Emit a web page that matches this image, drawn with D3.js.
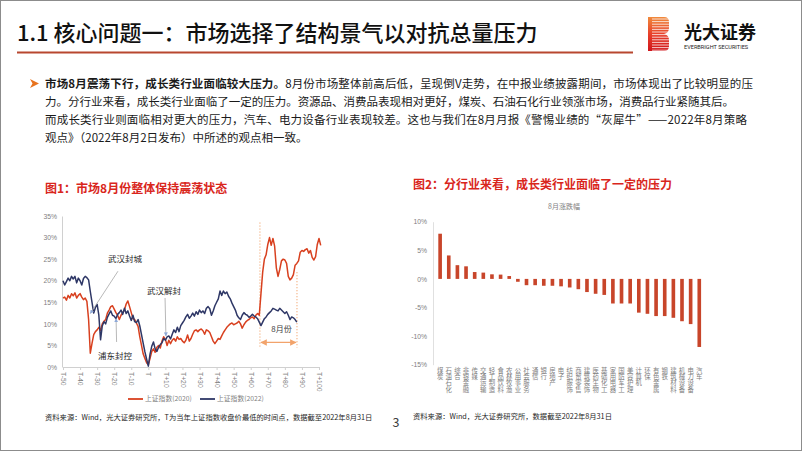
<!DOCTYPE html>
<html><head><meta charset="utf-8">
<script src="https://cdn.jsdelivr.net/npm/d3@7"></script>
<style>
html,body{margin:0;padding:0;background:#fff;}
svg{display:block;font-family:"Noto Sans CJK SC","Noto Sans",sans-serif;}
.vt{writing-mode:vertical-rl;text-orientation:upright;}
</style></head><body>
<svg id="c" width="802" height="451"></svg>
<script>
// ---------------- DATA ----------------
const days2022 = d3.range(-50, 88);
const index2022 = [20,19,19.8,20.6,20,21,20.4,21,19.5,20.6,20,19,20.5,21,20.7,20.2,17.5,15,12.5,13.8,14.5,12,6.3,9.5,10.5,10,11.5,12.3,13,12,11.8,11.2,12.2,12.6,13.2,12.2,13.6,12.4,13,11.8,10.8,12,10.5,10.3,11,9.5,7.5,5.5,3.5,1.8,0.2,3,4.8,5.8,4.2,3.6,4.6,5.2,5.6,6.6,6.2,7,7.2,6.5,7.6,8.6,8,9.2,8.2,9.6,10.2,10.8,11.6,12.2,11.3,11.8,12.5,11.8,12.8,12.2,13.2,12.6,13,12.4,13.6,14,13.5,12,13,14.2,15,15.8,17.6,16.6,17.6,17,17.4,16.4,15.8,14.8,14,13.2,12,11.4,11,12,12.6,12.2,12,11.5,11.8,12.2,11.8,11.6,11.2,10.4,9.6,10.4,11.2,11.6,12.2,12.6,13,13.6,13.4,13.2,13,13.6,13.2,12.8,12.4,12.8,12,11,11.6,11.4,11,10.4];
const days2020 = d3.range(-50, 102);
const index2020 = [16,16.2,15.5,16.6,16,17,16.5,17.2,16,16.6,17,16.2,15.6,16,15.2,11,3.2,5.5,7.5,8.2,8.6,9.2,8.5,10,10.6,11,12.5,13.2,14,14.2,13.4,12.6,12,11,12,12.6,13.2,14.6,15.3,14,12.6,11.2,11,10.2,9.4,7,5,3,2,1,0.5,2,3.6,4.2,3.4,4.6,5,4.4,6,7,6.4,5,6.2,5.4,6.2,6.6,6,7,6.4,6.6,6,5.6,6.2,7.4,6,6.6,7.6,8.4,8.6,8.2,8.6,8.8,8.4,7.6,8.6,8.4,8,7,6,5.4,6,6.6,6.4,7.2,8,8.6,9.2,9.6,10,10.2,9.8,10,10.2,10.6,10,9,9.8,10.4,10.8,11,11.4,11.6,11.2,12,12.4,12,17,22,25,26,28.4,30,28.2,29.8,28,23,21,22.6,24.6,25,24.8,24,21,20.2,20.6,21.4,23.6,24,24.6,26.6,27,26.8,27.2,27.4,26.4,27,25.4,24.8,25.6,28.4,29.8,28.2];
const leftYTicks = [0,5,10,15,20,25,30,35];
const leftXTicks = [-50,-40,-30,-20,-10,0,10,20,30,40,50,60,70,80,90,100];
const seriesNames = ["上证指数(2020)","上证指数(2022)"];

const industries = ["煤炭","石油石化","综合","非银金融","传媒","交通运输","轻工制造","食品饮料","农林牧渔","公用事业","社会服务","通信","银行","房地产","电子","纺织服饰","商贸零售","建筑装饰","医药生物","基础化工","家用电器","国防军工","美容护理","计算机","环保","有色金属","钢铁","建筑材料","机械设备","电力设备","汽车"];
const augChange = [7.9,4.1,2.4,2.2,1.2,1.1,0.8,0.75,0.5,-0.5,-1.1,-1.1,-1.2,-1.2,-1.3,-1.5,-1.8,-2.3,-2.6,-2.8,-4.3,-4.3,-4.3,-5.9,-6.1,-6.5,-6.5,-6.8,-7.4,-7.9,-11.9];
const rightYTicks = [10,5,0,-5,-10,-15];

const bodyLines = [
  ["市场8月震荡下行，成长类行业面临较大压力。","8月份市场整体前高后低，呈现倒V走势，在中报业绩披露期间，市场体现出了比较明显的压"],
  ["","力。分行业来看，成长类行业面临了一定的压力。资源品、消费品表现相对更好，煤炭、石油石化行业领涨市场，消费品行业紧随其后。"],
  ["","而成长类行业则面临相对更大的压力，汽车、电力设备行业表现较差。这也与我们在8月月报《警惕业绩的“灰犀牛”——2022年8月策略"],
  ["","观点》（2022年8月2日发布）中所述的观点相一致。"]
];

// ---------------- DRAW ----------------
const svg = d3.select("#c");
const RED = "#D8401F", NAVY = "#2E3766", BAR = "#C8452A", GREY = "#7F7F7F";

svg.append("rect").attr("x",0.5).attr("y",0.5).attr("width",801).attr("height",450)
  .attr("fill","#fff").attr("stroke","#8c8c8c");

// header
svg.append("text").attr("x",17).attr("y",41).attr("font-size",22).attr("font-weight",500)
  .attr("fill","#111").text("1.1 核心问题一：市场选择了结构景气以对抗总量压力");
svg.append("line").attr("x1",17).attr("x2",633).attr("y1",52.5).attr("y2",52.5)
  .attr("stroke","#B8472F").attr("stroke-width",2);

// logo
const defs = svg.append("defs");
const lg = defs.append("linearGradient").attr("id","lg").attr("x1",0).attr("y1",0).attr("x2",0).attr("y2",1);
lg.append("stop").attr("offset","0%").attr("stop-color","#F08A3C");
lg.append("stop").attr("offset","50%").attr("stop-color","#E8402A");
lg.append("stop").attr("offset","100%").attr("stop-color","#D0161C");
svg.append("path").attr("d","M648,17 H664 Q669,17 669,22 V28 Q669,33 664,34 Q669,35 669,40 V46 Q669,51 664,51 H648 Z")
  .attr("fill","url(#lg)");
d3.range(19,51,2.6).forEach(y=>{
  svg.append("line").attr("x1",652).attr("x2",670).attr("y1",y).attr("y2",y)
    .attr("stroke","#fff").attr("stroke-width",0.9).attr("opacity",0.85);
});
svg.append("text").attr("x",684).attr("y",39).attr("font-size",18).attr("font-weight",700)
  .attr("fill","#111").text("光大证券");
svg.append("text").attr("x",684).attr("y",48.5).attr("font-size",5.6).attr("font-family","Roboto, Arial, sans-serif")
  .attr("fill","#222").text("EVERBRIGHT SECURITIES");

// bullet
svg.append("path").attr("d","M30,79 L39,83.5 L30,88 L32.5,83.5 Z").attr("fill","#E8731E");

const lineLens = [708, 689, 702, null];
bodyLines.forEach((ln,i)=>{
  const t = svg.append("text").attr("x",45).attr("y",87.5+i*18).attr("font-size",11.5).attr("fill","#1a1a1a");
  if (lineLens[i]) t.attr("textLength",lineLens[i]).attr("lengthAdjust","spacing");
  if (ln[0]) t.append("tspan").attr("font-weight",700).text(ln[0]);
  t.append("tspan").text(ln[1]);
});

// chart titles
svg.append("text").attr("x",45).attr("y",193).attr("font-size",12).attr("font-weight",700)
  .attr("fill","#D9261C").text("图1：市场8月份整体保持震荡状态");
svg.append("text").attr("x",413).attr("y",189).attr("font-size",12).attr("font-weight",700)
  .attr("fill","#D9261C").text("图2：分行业来看，成长类行业面临了一定的压力");

// ---------- LEFT CHART ----------
const xL = d3.scaleLinear().domain([-50,100]).range([63,319]);
const yL = d3.scaleLinear().domain([0,35]).range([367,216]);

const gL = svg.append("g");
const yAxL = gL.append("g").attr("transform","translate(62,0)")
  .call(d3.axisLeft(yL).tickValues(leftYTicks).tickSize(0).tickPadding(5).tickFormat(d=>d+"%"));
yAxL.select(".domain").attr("stroke","#D0D0D0");
yAxL.selectAll("text").attr("font-size",6.8).attr("fill",GREY).attr("font-family","Arial, Liberation Sans, sans-serif");

const xAxL = gL.append("g").attr("transform","translate(0,367)")
  .call(d3.axisBottom(xL).tickValues(leftXTicks).tickSize(3).tickFormat(d=> d===0 ? "T" : (d>0 ? "T+"+d : "T"+d)));
xAxL.select(".domain").attr("stroke","#D0D0D0");
xAxL.selectAll(".tick line").attr("stroke","#D0D0D0");
xAxL.selectAll("text").attr("font-size",6.8).attr("fill",GREY).attr("font-family","Arial, Liberation Sans, sans-serif")
  .attr("text-anchor","start").attr("transform","rotate(90)").attr("x",5).attr("y",0).attr("dy","0.35em");

// annotation guides (8月份)
const augStart = 65.4, augEnd = 87.1;
gL.append("line").attr("x1",xL(augStart)).attr("x2",xL(augStart)).attr("y1",yL(33.5)).attr("y2",yL(4.5))
  .attr("stroke","#F2A36B").attr("stroke-width",1).attr("stroke-dasharray","1.2,1.8");
gL.append("line").attr("x1",xL(augEnd)).attr("x2",xL(augEnd)).attr("y1",yL(22)).attr("y2",yL(4.5))
  .attr("stroke","#F2A36B").attr("stroke-width",1).attr("stroke-dasharray","1.2,1.8");

const line = d3.line().x(d=>xL(d[0])).y(d=>yL(d[1]));
gL.append("path").datum(days2020.map((d,i)=>[d,index2020[i]])).attr("d",line)
  .attr("fill","none").attr("stroke",RED).attr("stroke-width",1.5).attr("stroke-linejoin","round");
gL.append("path").datum(days2022.map((d,i)=>[d,index2022[i]])).attr("d",line)
  .attr("fill","none").attr("stroke",NAVY).attr("stroke-width",1.5).attr("stroke-linejoin","round");

// double arrow
defs.append("marker").attr("id","oa").attr("viewBox","0 0 10 10").attr("refX",9).attr("refY",5)
  .attr("markerWidth",5).attr("markerHeight",5).attr("orient","auto-start-reverse")
  .append("path").attr("d","M0,0 L10,5 L0,10 Z").attr("fill","#F2A36B");
gL.append("line").attr("x1",xL(augStart)+1).attr("x2",xL(augEnd)-1).attr("y1",yL(5.7)).attr("y2",yL(5.7))
  .attr("stroke","#F2A36B").attr("stroke-width",1.3)
  .attr("marker-start","url(#oa)").attr("marker-end","url(#oa)");
gL.append("text").attr("x",xL(78)).attr("y",yL(8.8)).attr("dy","0.35em").attr("text-anchor","middle")
  .attr("font-size",8).attr("fill","#404040").text("8月份");

// event annotations
defs.append("marker").attr("id","ga").attr("viewBox","0 0 10 10").attr("refX",9).attr("refY",5)
  .attr("markerWidth",5).attr("markerHeight",5).attr("orient","auto")
  .append("path").attr("d","M0,0 L10,5 L0,10 Z").attr("fill","#8EA9D8");
const notes = [
  {label:"武汉封城", lt:-13.7, lv:25, from:[-17.8,22.2], to:[-34,12.4]},
  {label:"武汉解封", lt:9.2, lv:17.6, from:[9.8,16], to:[10.3,7.2]},
  {label:"浦东封控", lt:-19.5, lv:2.6, from:[-18.6,5.8], to:[-18.9,11.2]}
];
notes.forEach(n=>{
  gL.append("line").attr("x1",xL(n.from[0])).attr("y1",yL(n.from[1])).attr("x2",xL(n.to[0])).attr("y2",yL(n.to[1]))
    .attr("stroke","#A6A6A6").attr("stroke-width",0.8).attr("marker-end","url(#ga)");
  gL.append("text").attr("x",xL(n.lt)).attr("y",yL(n.lv)).attr("dy","0.35em").attr("text-anchor","middle")
    .attr("font-size",8.5).attr("fill","#262626").text(n.label);
});

// legend
const legL = gL.append("g");
[[128,RED,seriesNames[0]],[200,NAVY,seriesNames[1]]].forEach(([x,c,s])=>{
  legL.append("line").attr("x1",x).attr("x2",x+15).attr("y1",399).attr("y2",399).attr("stroke",c).attr("stroke-width",1.8);
  legL.append("text").attr("x",x+17).attr("y",399).attr("dy","0.35em").attr("font-size",6.8).attr("fill",GREY).text(s);
});
svg.append("text").attr("x",45).attr("y",420).attr("font-size",7.3).attr("fill","#262626")
  .text("资料来源：Wind，光大证券研究所，T为当年上证指数收盘价最低的时间点，数据截至2022年8月31日");

// ---------- RIGHT CHART ----------
const xR = d3.scaleBand().domain(industries).range([433.3,706.1]).padding(0.58);
const yR = d3.scaleLinear().domain([-15,10]).range([364.7,221.7]);
const gR = svg.append("g");
svg.append("text").attr("x",564).attr("y",207).attr("dy","0.35em").attr("text-anchor","middle")
  .attr("font-size",7).attr("fill","#7F7F7F").text("8月涨跌幅");
const yAxR = gR.append("g").attr("transform","translate(433,0)")
  .call(d3.axisLeft(yR).tickValues(rightYTicks).tickSize(0).tickPadding(6).tickFormat(d=>d+"%"));
yAxR.select(".domain").attr("stroke","#E0E0E0");
yAxR.selectAll("text").attr("font-size",6.8).attr("fill",GREY).attr("font-family","Arial, Liberation Sans, sans-serif");

gR.selectAll("rect.bar").data(industries).join("rect").attr("class","bar")
  .attr("x",d=>xR(d)).attr("width",xR.bandwidth())
  .attr("y",(d,i)=>yR(Math.max(0,augChange[i])))
  .attr("height",(d,i)=>Math.abs(yR(augChange[i])-yR(0)))
  .attr("fill",BAR);

gR.selectAll("text.cat").data(industries).join("text").attr("class","cat vt")
  .attr("x",d=>xR(d)+xR.bandwidth()/2).attr("y",367)
  .attr("font-size",6.4).attr("fill","#7F7F7F").text(d=>d);

svg.append("text").attr("x",413).attr("y",419).attr("font-size",7.3).attr("fill","#262626")
  .text("资料来源：Wind，光大证券研究所，数据截至2022年8月31日");

// page number
svg.append("text").attr("x",396).attr("y",427).attr("text-anchor","middle").attr("font-size",12.5)
  .attr("fill","#404040").text("3");
</script>
</body></html>
